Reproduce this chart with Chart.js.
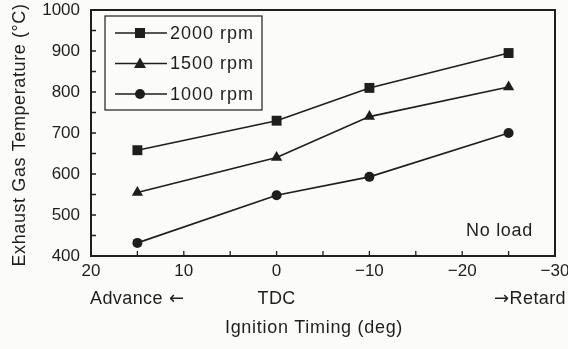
<!DOCTYPE html>
<html>
<head>
<meta charset="utf-8">
<script src="https://cdn.jsdelivr.net/npm/chart.js@4/dist/chart.umd.min.js"></script>
<style>
  html, body { margin: 0; padding: 0; background: #fbfbfa; }
  #wrap { width: 568px; height: 349px; position: relative; }
</style>
</head>
<body>
<div id="wrap"><canvas id="chart"></canvas></div>
<script>
// ignition timing (deg BTDC, negative = retard)
const timing = [15, 0, -10, -25];
const temp2000 = [658, 730, 810, 895];
const temp1500 = [555, 640, 740, 812];
const temp1000 = [432, 548, 593, 700];
const seriesNames = ['2000 rpm', '1500 rpm', '1000 rpm'];
const seriesMarkers = ['rect', 'triangle', 'circle'];
const xRange = [-30, 20];
const yRange = [400, 1000];

const ink = '#1e1e1e';
const fontFam = '"Liberation Sans", Arial, sans-serif';
const arrowFam = '"DejaVu Sans", sans-serif';

function pts(vals) {
  return timing.map((t, i) => ({ x: t, y: vals[i] }));
}

function minus(v) {
  return v < 0 ? '\u2212' + (-v) : String(v);
}

function marker(ctx, style, x, y) {
  ctx.beginPath();
  if (style === 'rect') {
    ctx.rect(x - 5, y - 5, 10, 10);
  } else if (style === 'triangle') {
    ctx.moveTo(x, y - 6);
    ctx.lineTo(x + 6, y + 4.5);
    ctx.lineTo(x - 6, y + 4.5);
    ctx.closePath();
  } else {
    ctx.arc(x, y, 5, 0, Math.PI * 2);
  }
  ctx.fill();
}

function txt(ctx, s, x, y, align, size, spacing) {
  ctx.font = size + 'px ' + fontFam;
  ctx.letterSpacing = (spacing || 0) + 'px';
  ctx.textAlign = align;
  ctx.fillText(s, x, y);
  ctx.letterSpacing = '0px';
}

// frame, inward ticks, legend box and extra axis text
const decor = {
  id: 'decor',
  afterDraw(chart) {
    const ctx = chart.ctx;
    const a = chart.chartArea;
    const xs = chart.scales.x, ys = chart.scales.y;
    ctx.save();
    ctx.strokeStyle = ink;
    ctx.fillStyle = ink;

    // ticks
    ctx.lineWidth = 1.3;
    ctx.beginPath();
    for (let v = yRange[0] + 50; v < yRange[1]; v += 50) {
      const py = ys.getPixelForValue(v);
      ctx.moveTo(a.left, py);
      ctx.lineTo(a.left + 5, py);
    }
    for (let v = xRange[0] + 5; v < xRange[1]; v += 5) {
      const px = xs.getPixelForValue(v);
      ctx.moveTo(px, a.bottom);
      ctx.lineTo(px, a.bottom - 5);
    }
    ctx.stroke();

    // frame
    ctx.lineWidth = 2;
    ctx.strokeRect(a.left, a.top, a.right - a.left, a.bottom - a.top);

    // legend
    ctx.lineWidth = 1.2;
    ctx.strokeRect(105, 16, 157, 94);
    ctx.textBaseline = 'middle';
    seriesNames.forEach((name, i) => {
      const y = 33 + i * 30.5;
      ctx.lineWidth = 1.6;
      ctx.beginPath();
      ctx.moveTo(115, y);
      ctx.lineTo(167, y);
      ctx.stroke();
      marker(ctx, seriesMarkers[i], 140, y);
      txt(ctx, name, 170, y + 1, 'left', 18, 1);
    });

    // annotations
    txt(ctx, 'No load', 533, 231, 'right', 18, 0.7);
    txt(ctx, 'Advance', 90, 299, 'left', 18, 0.4);
    ctx.font = '18px ' + arrowFam;
    ctx.textAlign = 'left';
    ctx.fillText('\u2190', 169, 299);
    txt(ctx, 'TDC', xs.getPixelForValue(0), 299, 'center', 18, 0.4);
    txt(ctx, 'Retard', 566, 299, 'right', 18, 0.4);
    ctx.font = '18px ' + arrowFam;
    ctx.textAlign = 'right';
    ctx.fillText('\u2192', 509, 299);
    txt(ctx, 'Ignition Timing (deg)', 314, 328, 'center', 18, 0.7);

    // y title
    ctx.translate(20, (a.top + a.bottom) / 2 + 2);
    ctx.rotate(-Math.PI / 2);
    txt(ctx, 'Exhaust Gas Temperature (\u00b0C)', 0, 0, 'center', 18, 0.6);
    ctx.restore();
  }
};

const ds = (label, vals, style, r) => ({
  label: label,
  data: pts(vals),
  borderColor: ink,
  backgroundColor: ink,
  borderWidth: 1.6,
  pointStyle: style,
  pointRadius: r,
  pointBorderWidth: 0,
  pointBackgroundColor: ink,
  tension: 0
});

new Chart(document.getElementById('chart'), {
  type: 'line',
  data: {
    datasets: [
      ds(seriesNames[0], temp2000, 'rect', 7),
      ds(seriesNames[1], temp1500, 'triangle', 6.5),
      ds(seriesNames[2], temp1000, 'circle', 5)
    ]
  },
  options: {
    responsive: true,
    maintainAspectRatio: false,
    animation: false,
    layout: { padding: { top: 10, right: 13, left: 0, bottom: 0 } },
    plugins: {
      legend: { display: false },
      tooltip: { enabled: false }
    },
    scales: {
      x: {
        type: 'linear',
        reverse: true,
        min: xRange[0],
        max: xRange[1],
        grid: { display: false, drawTicks: false },
        border: { display: false },
        ticks: {
          stepSize: 10,
          padding: 5,
          color: ink,
          font: { size: 17, family: fontFam },
          callback: v => minus(v)
        },
        afterFit: s => { s.height = 93; s.paddingLeft = 0; s.paddingRight = 0; }
      },
      y: {
        min: yRange[0],
        max: yRange[1],
        grid: { display: false, drawTicks: false },
        border: { display: false },
        ticks: {
          stepSize: 100,
          padding: 11,
          color: ink,
          font: { size: 17, family: fontFam },
          callback: v => String(v)
        },
        afterFit: s => { s.width = 91; s.paddingTop = 0; s.paddingBottom = 0; }
      }
    }
  },
  plugins: [decor]
});
</script>
</body>
</html>
